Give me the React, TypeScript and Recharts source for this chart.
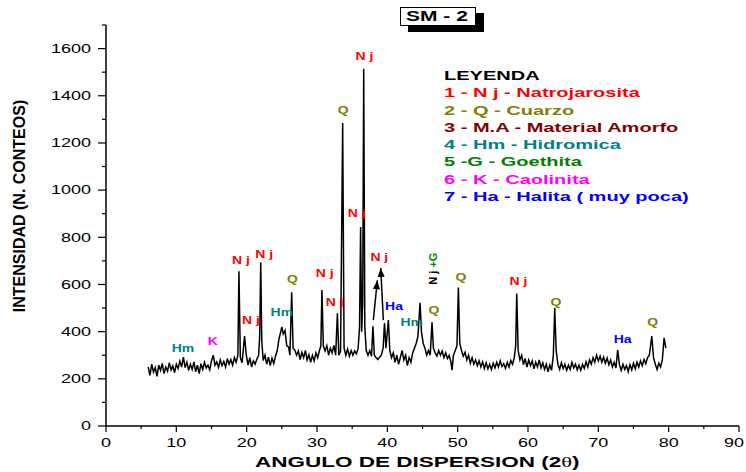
import React from "react";
import { ComposedChart, Line, Scatter, XAxis, YAxis, ReferenceLine, ReferenceDot } from "recharts";

// difractograma SM-2: [2θ, conteos]
const scan1 = [
  [6.0, 250], [6.25, 215], [6.5, 262], [6.75, 228], [7.0, 248], [7.25, 210], [7.5, 258], [7.75, 236],
  [8.0, 265], [8.25, 222], [8.5, 250], [8.75, 232], [9.0, 268], [9.25, 238], [9.5, 255], [9.75, 226],
  [10.0, 262], [10.25, 244], [10.5, 275], [10.75, 250], [11.0, 292], [11.25, 248], [11.5, 270], [11.75, 236],
  [12.0, 262], [12.25, 240], [12.5, 272], [12.75, 230], [13.0, 258], [13.25, 222], [13.5, 264], [13.75, 240],
  [14.0, 270], [14.25, 246], [14.5, 258], [14.75, 238], [15.0, 276], [15.25, 300], [15.5, 258], [15.75, 272],
  [16.0, 248], [16.25, 280], [16.5, 256], [16.75, 274], [17.0, 250], [17.25, 286], [17.5, 262], [17.75, 282],
  [18.0, 258], [18.25, 290], [18.5, 270], [18.75, 300], [18.9, 656], [19.1, 290], [19.35, 268], [19.7, 381],
  [19.95, 300],
];
const scan2 = [
  [20.2, 258], [20.45, 290], [20.7, 250], [20.95, 276], [21.2, 262], [21.45, 284], [21.7, 300], [21.85, 380],
  [22.0, 694], [22.15, 360], [22.35, 278], [22.6, 300], [22.85, 262], [23.1, 292], [23.35, 256], [23.6, 288],
  [23.85, 264], [24.1, 296], [24.35, 320], [24.6, 370], [24.85, 400], [25.0, 420], [25.2, 390], [25.45, 405],
  [25.7, 340], [25.95, 335], [26.15, 300], [26.4, 567], [26.6, 330], [26.85, 322], [27.1, 300], [27.35, 318],
  [27.6, 282], [27.85, 312], [28.1, 290], [28.35, 320], [28.6, 280], [28.85, 302], [29.1, 270], [29.35, 300],
  [29.6, 276], [29.85, 310], [30.1, 290], [30.35, 320], [30.55, 340], [30.7, 576], [30.9, 340], [31.15, 318],
  [31.4, 340], [31.65, 300], [31.9, 330], [32.15, 310], [32.4, 342], [32.65, 300], [32.9, 478], [33.1, 300],
  [33.35, 318], [33.65, 1284], [33.85, 330], [34.1, 300], [34.35, 326], [34.6, 296], [34.85, 320], [35.1, 300],
  [35.35, 318], [35.6, 306], [35.85, 330], [36.05, 420], [36.2, 844], [36.35, 400], [36.5, 520], [36.64, 1514],
  [36.8, 420], [37.0, 320], [37.25, 300], [37.5, 320], [37.75, 296], [37.95, 423], [38.15, 300], [38.4, 290],
  [38.65, 282], [38.9, 292], [39.15, 300], [39.4, 330], [39.6, 436], [39.8, 330], [40.15, 449],
];
const scan3 = [
  [40.35, 320], [40.6, 290], [40.85, 310], [41.1, 270], [41.35, 300], [41.6, 262], [41.85, 290], [42.1, 320],
  [42.35, 280], [42.6, 300], [42.85, 256], [43.1, 290], [43.35, 270], [43.6, 310], [43.85, 330], [44.1, 350],
  [44.35, 380], [44.65, 522], [44.85, 400], [45.1, 350], [45.35, 330], [45.6, 300], [45.85, 320], [46.1, 300],
  [46.35, 440], [46.55, 330], [46.8, 310], [47.05, 296], [47.3, 320], [47.55, 300], [47.8, 318], [48.05, 290],
  [48.3, 310], [48.55, 286], [48.8, 300], [49.05, 270], [49.2, 237], [49.4, 300], [49.65, 320], [49.9, 340],
  [50.1, 587], [50.3, 350], [50.55, 320], [50.8, 296], [51.05, 312], [51.3, 280], [51.55, 300], [51.8, 266],
  [52.05, 290], [52.3, 262], [52.55, 280], [52.8, 256], [53.05, 276], [53.3, 250], [53.55, 272], [53.8, 244],
  [54.05, 268], [54.3, 242], [54.55, 262], [54.8, 240], [55.05, 266], [55.3, 246], [55.55, 270], [55.8, 250],
  [56.05, 276], [56.3, 252], [56.55, 264], [56.8, 244], [57.05, 270], [57.3, 250], [57.55, 278], [57.8, 262],
  [58.05, 290], [58.25, 340], [58.4, 562], [58.6, 320], [58.85, 280], [59.1, 300], [59.35, 260], [59.6, 286],
  [59.85, 250],
];
const scan4 = [
  [60.1, 280], [60.35, 256], [60.6, 276], [60.85, 242], [61.1, 270], [61.35, 250], [61.6, 280], [61.85, 246],
  [62.1, 268], [62.35, 240], [62.6, 262], [62.85, 230], [63.1, 258], [63.35, 236], [63.6, 300], [63.8, 501],
  [64.0, 320], [64.25, 262], [64.5, 240], [64.75, 268], [65.0, 244], [65.25, 262], [65.5, 236], [65.75, 258],
  [66.0, 240], [66.25, 270], [66.5, 246], [66.75, 262], [67.0, 238], [67.25, 258], [67.5, 236], [67.75, 262],
  [68.0, 244], [68.25, 272], [68.5, 250], [68.75, 280], [69.0, 262], [69.25, 290], [69.5, 270], [69.75, 300],
  [70.0, 276], [70.25, 296], [70.5, 270], [70.75, 292], [71.0, 266], [71.25, 288], [71.5, 260], [71.75, 280],
  [72.0, 250], [72.25, 270], [72.5, 246], [72.75, 322], [73.0, 260], [73.25, 236], [73.5, 262], [73.75, 240],
  [74.0, 256], [74.25, 230], [74.5, 260], [74.75, 238], [75.0, 266], [75.25, 242], [75.5, 270], [75.75, 250],
  [76.0, 276], [76.25, 256], [76.5, 282], [76.75, 264], [77.0, 290], [77.25, 300], [77.6, 381], [77.85, 290],
  [78.1, 262], [78.35, 240], [78.6, 266], [78.85, 250], [79.1, 280], [79.35, 374], [79.6, 330],
];

// etiquetas de picos: [2θ, conteos, texto, color]
const peakLabels = [
  [10.95, 330, "Hm", "#008080"], [15.2, 360, "K", "#ff00ff"], [19.2, 703, "N j", "#ff0000"],
  [20.6, 449, "N j", "#ff0000"], [22.5, 728, "N j", "#ff0000"], [25.0, 480, "Hm", "#008080"],
  [26.5, 622, "Q", "#808000"], [31.1, 648, "N j", "#ff0000"], [32.5, 526, "N j", "#ff0000"],
  [33.74, 1338, "Q", "#808000"], [35.65, 903, "N j", "#ff0000"], [36.73, 1566, "N j", "#ff0000"],
  [38.86, 714, "N j", "#ff0000"], [40.95, 505, "Ha", "#0000ff"], [43.47, 439, "Hm", "#008080"],
  [46.64, 488, "Q", "#808000"], [46.55, 667, "NjG", "#008000"], [50.48, 632, "Q", "#808000"],
  [58.63, 615, "N j", "#ff0000"], [63.98, 526, "Q", "#808000"], [73.46, 368, "Ha", "#0000ff"],
  [77.73, 441, "Q", "#808000"],
];

// flechas: cola [2θ, conteos] -> punta [2θ, conteos]
const arrows = [
  [38.01, 449, 38.58, 618],
  [39.43, 449, 39.06, 670],
];

const legendTitle = "LEYENDA";
const legendItems = [
  ["1 - N j - Natrojarosita", "#ff0000"],
  ["2 - Q - Cuarzo", "#808000"],
  ["3 - M.A - Material Amorfo", "#800000"],
  ["4 - Hm - Hidromica", "#008080"],
  ["5 -G - Goethita", "#008000"],
  ["6 - K - Caolinita", "#ff00ff"],
  ["7 - Ha - Halita ( muy poca)", "#0000ff"],
];

const xTicks = [0, 5, 10, 15, 20, 25, 30, 35, 40, 45, 50, 55, 60, 65, 70, 75, 80, 85, 90];
const yTicks = [0, 100, 200, 300, 400, 500, 600, 700, 800, 900, 1000, 1100, 1200, 1300, 1400, 1500, 1600, 1700];

const FONT = "Arial, 'Liberation Sans', sans-serif";
const SX = 1.5; // el original está estirado en horizontal
const W = 746, H = 472;
const M = { top: 25, right: 7, bottom: 0, left: 0 };
const Y_W = 106, X_H = 46;
const PLOT_W = W - M.left - M.right - Y_W;
const PLOT_H = H - M.top - M.bottom - X_H;

const data = [...scan1, ...scan2, ...scan3, ...scan4].map(([a, c]) => ({ a, c }));
const labelData = peakLabels.map(([a, c, t, col]) => ({ a, c, t, col }));

const XTick = ({ x, y, payload }: any) => {
  const major = payload.value % 10 === 0;
  const tx = Math.min(x, W - 12); // que el "90" no se corte en el borde
  return (
    <g>
      <line x1={x} x2={x} y1={y} y2={y + (major ? 6 : 3)} stroke="#000" strokeWidth={1.2} />
      {major && (
        <text transform={`translate(${tx},${y + 21}) scale(${SX},1)`} textAnchor="middle" fontSize={12} fontFamily={FONT} fill="#000">
          {payload.value}
        </text>
      )}
    </g>
  );
};

const YTick = ({ x, y, payload }: any) => {
  const major = payload.value % 200 === 0;
  return (
    <g>
      <line x1={x} x2={x - (major ? 8 : 4)} y1={y} y2={y} stroke="#000" strokeWidth={1.2} />
      {major && (
        <text transform={`translate(${x - 15},${y}) scale(${SX},1)`} dy="0.36em" textAnchor="end" fontSize={12} fontFamily={FONT} fill="#000">
          {payload.value}
        </text>
      )}
    </g>
  );
};

const PeakLabel = ({ cx, cy, payload }: any) => {
  if (payload.t === "NjG") {
    return (
      <text transform={`translate(${cx},${cy}) rotate(-90)`} dy="0.36em" textAnchor="middle" fontSize={11} fontWeight="bold" fontFamily={FONT}>
        <tspan fill="#000">N j </tspan><tspan fill="#008000">+G</tspan>
      </text>
    );
  }
  return (
    <text transform={`translate(${cx},${cy}) scale(1.4,1)`} dy="0.36em" textAnchor="middle" fontSize={10} fontWeight="bold" fontFamily={FONT} fill={payload.col}>
      {payload.t}
    </text>
  );
};

const ArrowHead = (dx: number, dy: number) => ({ cx, cy }: any) => {
  const px = dx * PLOT_W / 90, py = -dy * PLOT_H / 1700;
  const ang = Math.atan2(py, px) * 180 / Math.PI;
  return <path d="M0,0 L-9,-3.5 L-9,3.5 Z" fill="#000" transform={`translate(${cx},${cy}) rotate(${ang})`} />;
};

const stretch = (sx: number): React.CSSProperties => ({ display: "inline-block", transform: `scaleX(${sx})`, transformOrigin: "left center", whiteSpace: "pre" });

export default function App() {
  return (
    <div style={{ position: "relative", width: W, height: H, fontFamily: FONT, background: "#fff" }}>
      <style>{"body{margin:0}"}</style>
      <ComposedChart width={W} height={H} data={data} margin={M}>
        <XAxis type="number" dataKey="a" domain={[0, 90]} ticks={xTicks} interval={0} height={X_H}
          tickSize={0} tickMargin={0} tickLine={false} tick={<XTick />} axisLine={{ stroke: "#000", strokeWidth: 1.5 }} />
        <YAxis type="number" domain={[0, 1700]} ticks={yTicks} interval={0} width={Y_W}
          tickSize={0} tickMargin={0} tickLine={false} tick={<YTick />} axisLine={{ stroke: "#000", strokeWidth: 1.5 }} />
        <Line type="linear" dataKey="c" stroke="#000" strokeWidth={1.5} dot={false} isAnimationActive={false} />
        <Scatter data={labelData} dataKey="c" shape={<PeakLabel />} isAnimationActive={false} />
        {arrows.map(([x1, y1, x2, y2], i) => (
          <ReferenceLine key={"l" + i} segment={[{ x: x1, y: y1 }, { x: x2, y: y2 }]} stroke="#000" strokeWidth={1.5} />
        ))}
        {arrows.map(([x1, y1, x2, y2], i) => (
          <ReferenceDot key={"d" + i} x={x2} y={y2} r={4} shape={ArrowHead(x2 - x1, y2 - y1)} />
        ))}
      </ComposedChart>

      <div style={{ position: "absolute", left: 400, top: 7, width: 76, height: 19, border: "1.5px solid #000", boxShadow: "8px 6px 0 #000",
        background: "#fff", boxSizing: "border-box", fontWeight: "bold", fontSize: 14, lineHeight: "17px", paddingLeft: 5 }}>
        <span style={stretch(SX)}>SM - 2</span>
      </div>

      <div style={{ position: "absolute", left: 444, top: 67, fontWeight: "bold", fontSize: 13, lineHeight: "17.3px" }}>
        <div style={{ color: "#000" }}><span style={stretch(1.54)}>{legendTitle}</span></div>
        {legendItems.map(([t, c]) => <div key={t} style={{ color: c }}><span style={stretch(1.54)}>{t}</span></div>)}
      </div>

      <div style={{ position: "absolute", left: 20, top: 206, transform: "translate(-50%,-50%) rotate(-90deg)", whiteSpace: "nowrap",
        fontFamily: "'Liberation Sans Narrow', Arial, sans-serif", fontWeight: "bold", fontSize: 16 }}>INTENSIDAD (N. CONTEOS)</div>

      <div style={{ position: "absolute", left: 255, top: 453, fontWeight: "bold", fontSize: 15, lineHeight: "18px" }}>
        <span style={stretch(SX)}>ANGULO DE DISPERSION (2<span style={{ fontFamily: "'Liberation Serif', serif", fontWeight: "normal" }}>θ</span>)</span>
      </div>
    </div>
  );
}
